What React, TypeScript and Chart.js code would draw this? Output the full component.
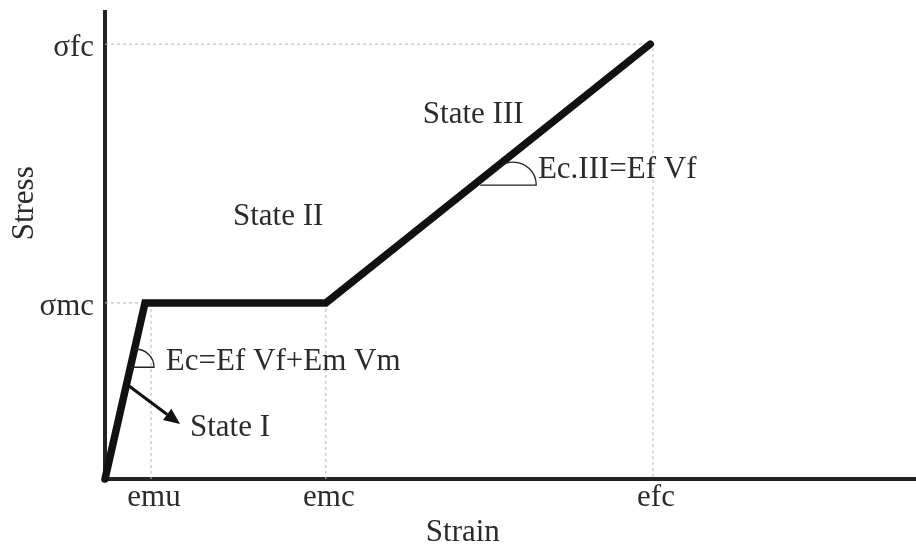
import React, { useEffect, useRef } from "react";
import { Chart, registerables } from "chart.js";

Chart.register(...registerables);

// Characteristic points of the composite stress–strain curve (normalised units)
const strainTicks = [0.084, 0.403, 1.0];
const strainTickLabels = ["emu", "emc", "efc"];
const stressTicks = [0.405, 1.0];
const stressTickLabels = ["σmc", "σfc"];

const curveStrain = [0, 0.073, 0.403, 0.995];
const curveStress = [0, 0.405, 0.405, 1.0];

// Dashed guides from the axes to the characteristic points
const guideFc = [
  { x: 0, y: 1.0 },
  { x: 1.0, y: 1.0 },
  { x: 1.0, y: 0 },
];
const guideMc = [
  { x: 0, y: 0.405 },
  { x: 0.073, y: 0.405 },
];
const guideEmu = [
  { x: 0.084, y: 0.405 },
  { x: 0.084, y: 0 },
];
const guideEmc = [
  { x: 0.403, y: 0.405 },
  { x: 0.403, y: 0 },
];

const X_MAX = 1.48;
const Y_MAX = 1.074;

const FONT = "'Liberation Serif', 'Times New Roman', serif";
const FONT_SIZE = 31;
const TEXT_COLOR = "#2b2b2b";

const annotationPlugin = {
  id: "stressStrainNotes",
  afterDatasetsDraw(chart: any) {
    const { ctx } = chart;
    const xs = chart.scales.x;
    const ys = chart.scales.y;
    const px = (v: number) => xs.getPixelForValue(v);
    const py = (v: number) => ys.getPixelForValue(v);

    ctx.save();
    ctx.fillStyle = TEXT_COLOR;
    ctx.font = `${FONT_SIZE}px ${FONT}`;
    ctx.textBaseline = "alphabetic";
    ctx.textAlign = "left";
    ctx.fillText("State III", px(0.58), py(0.818));
    ctx.fillText("State II", px(0.2336), py(0.584));
    ctx.fillText("Ec.III=Ef Vf", px(0.79), py(0.692));
    ctx.fillText("Ec=Ef Vf+Em Vm", px(0.111), py(0.251));
    ctx.fillText("State I", px(0.155), py(0.0989));

    // angle markers
    ctx.strokeStyle = "#222";
    ctx.lineWidth = 1.3;
    // State I slope marker
    {
      const cx = px(0.0566);
      const cy = py(0.257);
      const r = 18;
      ctx.beginPath();
      ctx.moveTo(cx - 6, cy);
      ctx.lineTo(cx + r, cy);
      ctx.arc(cx, cy, r, 0, -Math.PI * 0.55, true);
      ctx.stroke();
    }
    // State III slope marker
    {
      const cx = px(0.745);
      const cy = py(0.676);
      const r = 23;
      ctx.beginPath();
      ctx.moveTo(cx - 33, cy);
      ctx.lineTo(cx + r, cy);
      ctx.arc(cx, cy, r, 0, -Math.PI * 0.7, true);
      ctx.stroke();
    }

    // arrow pointing to State I
    {
      const x0 = px(0.0438);
      const y0 = py(0.2138);
      const x1 = px(0.1369);
      const y1 = py(0.1264);
      const ang = Math.atan2(y1 - y0, x1 - x0);
      const head = 16;
      const hw = 7;
      ctx.strokeStyle = "#111";
      ctx.fillStyle = "#111";
      ctx.lineWidth = 3;
      ctx.beginPath();
      ctx.moveTo(x0, y0);
      ctx.lineTo(x1 - head * Math.cos(ang), y1 - head * Math.sin(ang));
      ctx.stroke();
      ctx.beginPath();
      ctx.moveTo(x1, y1);
      ctx.lineTo(
        x1 - head * Math.cos(ang) + hw * Math.sin(ang),
        y1 - head * Math.sin(ang) - hw * Math.cos(ang)
      );
      ctx.lineTo(
        x1 - head * Math.cos(ang) - hw * Math.sin(ang),
        y1 - head * Math.sin(ang) + hw * Math.cos(ang)
      );
      ctx.closePath();
      ctx.fill();
    }

    // axis titles
    ctx.fillStyle = TEXT_COLOR;
    ctx.font = `${FONT_SIZE}px ${FONT}`;
    ctx.textAlign = "center";
    ctx.textBaseline = "alphabetic";
    ctx.fillText("Strain", px(0.653), chart.height - 3);
    ctx.translate(33, py(0.634));
    ctx.rotate(-Math.PI / 2);
    ctx.fillText("Stress", 0, 0);
    ctx.restore();
  },
};

const guideStyle = {
  borderColor: "#b5b5b5",
  borderWidth: 1,
  borderDash: [3, 3],
  pointRadius: 0,
  fill: false,
  clip: false as const,
};

export default function App() {
  const canvasRef = useRef<HTMLCanvasElement | null>(null);

  useEffect(() => {
    const canvas = canvasRef.current;
    if (!canvas) return;
    const curve = curveStrain.map((x, i) => ({ x, y: curveStress[i] }));

    const chart = new Chart(canvas, {
      type: "line",
      data: {
        datasets: [
          {
            label: "Composite",
            data: curve,
            borderColor: "#111",
            borderWidth: 7.5,
            borderJoinStyle: "miter",
            borderCapStyle: "round",
            pointRadius: 0,
            fill: false,
            clip: false,
          } as any,
          { label: "fc", data: guideFc, ...guideStyle } as any,
          { label: "mc", data: guideMc, ...guideStyle } as any,
          { label: "emu", data: guideEmu, ...guideStyle } as any,
          { label: "emc", data: guideEmc, ...guideStyle } as any,
        ],
      },
      options: {
        responsive: false,
        animation: false,
        layout: { padding: { top: 12, right: 0, left: 0, bottom: 0 } },
        plugins: {
          legend: { display: false },
          tooltip: { enabled: false },
        },
        scales: {
          x: {
            type: "linear",
            min: 0,
            max: X_MAX,
            grid: { display: false, drawTicks: false },
            border: { display: true, width: 4, color: "#222" },
            afterBuildTicks: (scale: any) => {
              scale.ticks = strainTicks.map((value) => ({ value }));
            },
            afterFit: (scale: any) => {
              scale.height = 65;
              scale.paddingLeft = 0;
              scale.paddingRight = 0;
            },
            ticks: {
              autoSkip: false,
              maxRotation: 0,
              padding: 0,
              labelOffset: 3,
              color: TEXT_COLOR,
              font: { family: FONT, size: FONT_SIZE },
              callback: (value: any) => {
                const i = strainTicks.indexOf(Number(value));
                return i >= 0 ? strainTickLabels[i] : "";
              },
            },
          },
          y: {
            type: "linear",
            min: 0,
            max: Y_MAX,
            grid: { display: false, drawTicks: false },
            border: { display: true, width: 4, color: "#222" },
            afterBuildTicks: (scale: any) => {
              scale.ticks = stressTicks.map((value) => ({ value }));
            },
            afterFit: (scale: any) => {
              scale.width = 105;
              scale.paddingTop = 0;
              scale.paddingBottom = 0;
            },
            ticks: {
              autoSkip: false,
              padding: 11,
              labelOffset: 4,
              color: TEXT_COLOR,
              font: { family: FONT, size: FONT_SIZE },
              callback: (value: any) => {
                const i = stressTicks.indexOf(Number(value));
                return i >= 0 ? stressTickLabels[i] : "";
              },
            },
          },
        },
      },
      plugins: [annotationPlugin],
    });

    return () => chart.destroy();
  }, []);

  return (
    <div
      style={{
        position: "fixed",
        left: 0,
        top: 0,
        width: 916,
        height: 544,
        background: "#fff",
      }}
    >
      <canvas ref={canvasRef} width={916} height={544} />
    </div>
  );
}
